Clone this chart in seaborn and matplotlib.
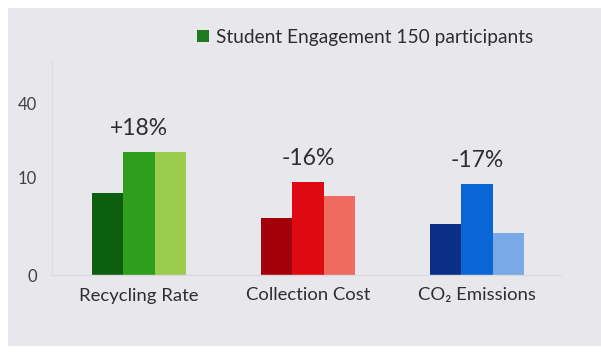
import matplotlib
matplotlib.use("Agg")
import matplotlib.pyplot as plt
from matplotlib.patches import Patch, Rectangle
import pandas as pd
import seaborn as sns

# ---- data ----
categories = ["Recycling Rate", "Collection Cost", "CO₂ Emissions"]
series = ["Before", "Pilot", "After"]
recycling_values = [8.5, 12.7, 12.7]
cost_values = [5.9, 9.6, 8.1]
co2_values = [5.3, 9.4, 4.3]
change_labels = ["+18%", "-16%", "-17%"]
ytick_values = [0, 10, 17.7]
ytick_labels = ["0", "10", "40"]
legend_label = "Student Engagement 150 participants"

green_colors = ["#0b5f0f", "#2e9e1c", "#9ccc4e"]
red_colors = ["#a3000a", "#df0912", "#ef6a5f"]
blue_colors = ["#0b2f86", "#0a66d6", "#79a9e6"]
group_colors = [green_colors, red_colors, blue_colors]

rows = []
for cat, vals in zip(categories, [recycling_values, cost_values, co2_values]):
    for s, v in zip(series, vals):
        rows.append({"category": cat, "series": s, "value": v})
df = pd.DataFrame(rows)

sns.set_theme(style="white")
plt.rcParams["font.family"] = ["Lato", "DejaVu Sans"]

W, H = 601, 354
fig = plt.figure(figsize=(W / 100, H / 100), dpi=100)
fig.patch.set_facecolor("white")
bg = "#e8e8ec"
fig.patches.append(Rectangle((8 / W, 8 / H), 1 - 8 / W, 1 - 16 / H,
                             transform=fig.transFigure, facecolor=bg,
                             edgecolor="none", zorder=-10))

ax = fig.add_axes([52 / W, 1 - 275 / H, (560 - 52) / W, (275 - 60) / H])
ax.set_facecolor("none")
ax.set_zorder(1)

sns.barplot(data=df, x="category", y="value", hue="series", width=0.56,
            saturation=1, legend=False, ax=ax, errorbar=None)

for j, container in enumerate(ax.containers):
    for i, bar in enumerate(container):
        bar.set_facecolor(group_colors[i][j])
        bar.set_edgecolor("none")

ax.set_xlim(-0.515, 2.49)
ax.set_ylim(0, 22.16)

# change labels above tallest bar of each group
for i, lab in enumerate(change_labels):
    top = max(df[df["category"] == categories[i]]["value"])
    ax.annotate(lab, xy=(i, top), xytext=(0, 17), textcoords="offset points",
                ha="center", va="center", fontsize=16.5, color="#2e2e2e")

ax.set_yticks(ytick_values)
ax.set_yticklabels(ytick_labels)
ax.tick_params(axis="y", length=0, pad=11, labelsize=12, labelcolor="#404040")
ax.tick_params(axis="x", length=0, pad=9, labelsize=13.3, labelcolor="#2e2e2e")
ax.set_xlabel("")
ax.set_ylabel("")

for side in ["top", "right"]:
    ax.spines[side].set_visible(False)
ax.spines["left"].set_color("#dfdfe3")
ax.spines["left"].set_linewidth(1.0)
ax.spines["bottom"].set_color("#d9d9dd")
ax.spines["bottom"].set_linewidth(1.0)

handle = Patch(facecolor="#1e7a1e", edgecolor="none")
leg = fig.legend(handles=[handle], labels=[legend_label], loc="center left",
                 bbox_to_anchor=(180 / W, 1 - 37 / H), frameon=False,
                 handlelength=0.6, handleheight=0.6, handletextpad=0.4,
                 fontsize=13.8, labelcolor="#2e2e2e")
leg.set_zorder(2)

fig.savefig("out.png", dpi=100)
